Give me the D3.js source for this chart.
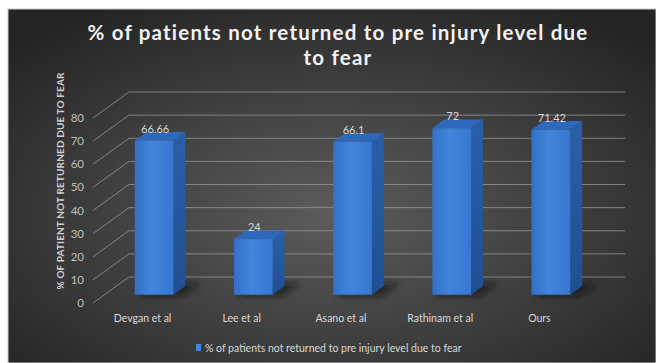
<!DOCTYPE html>
<html>
<head>
<meta charset="utf-8">
<script src="https://cdn.jsdelivr.net/npm/d3@7"></script>
<style>
  body { margin: 0; background: #fff; }
  svg { display: block; }
</style>
</head>
<body>
<svg id="chart" width="656" height="363"></svg>
<script>
// chart data
const studies = ['Devgan et al', 'Lee et al', 'Asano et al', 'Rathinam et al', 'Ours'];
const percentNotReturned = [66.66, 24, 66.1, 72, 71.42];
const valueLabels = ['66.66', '24', '66.1', '72', '71.42'];
const yTicks = [0, 10, 20, 30, 40, 50, 60, 70, 80];
const seriesName = '% of patients not returned to pre injury level due to fear';

const svg = d3.select('#chart');
const defs = svg.append('defs');

// background gradient
const bg = defs.append('radialGradient').attr('id', 'bg')
    .attr('cx', '50%').attr('cy', '58%').attr('r', '68%');
bg.append('stop').attr('offset', '0%').attr('stop-color', '#5c5c5c');
bg.append('stop').attr('offset', '100%').attr('stop-color', '#242424');

const front = defs.append('linearGradient').attr('id', 'front')
    .attr('x1', '0').attr('x2', '1').attr('y1', '0').attr('y2', '0');
front.append('stop').attr('offset', '0%').attr('stop-color', '#3470c8');
front.append('stop').attr('offset', '45%').attr('stop-color', '#4186dc');
front.append('stop').attr('offset', '100%').attr('stop-color', '#3776d0');

const side = defs.append('linearGradient').attr('id', 'side')
    .attr('x1', '0').attr('x2', '0').attr('y1', '0').attr('y2', '1');
side.append('stop').attr('offset', '0%').attr('stop-color', '#2a5fa8');
side.append('stop').attr('offset', '100%').attr('stop-color', '#1f4f93');

defs.append('filter').attr('id', 'blur').attr('x', '-50%').attr('y', '-50%')
    .attr('width', '200%').attr('height', '200%')
    .append('feGaussianBlur').attr('stdDeviation', 3);

svg.append('rect')
    .attr('x', 8).attr('y', 9).attr('width', 648).attr('height', 354)
    .attr('fill', 'url(#bg)')
    .attr('stroke', '#c8c8c8').attr('stroke-width', 1);

// 3d projection: t = 0 back wall, t = 1 front edge
const depthX = -36, depthY = 26;
const proj = (x, y, t) => [x + depthX * t, y + depthY * t];

const x = d3.scaleBand()
    .domain(studies)
    .range([129, 625])
    .paddingInner(0.61)
    .paddingOuter(0.305);

const y = d3.scaleLinear().domain([0, 80]).range([277, 92]);

// gridlines
const grid = svg.append('g');
yTicks.forEach(v => {
    const p = proj(129, y(v), 1);
    grid.append('path')
        .attr('d', `M${p[0]},${p[1]}L129,${y(v)}L625,${y(v)}`)
        .attr('fill', 'none')
        .attr('stroke', '#959595')
        .attr('stroke-width', 1)
        .attr('opacity', 0.8);
    grid.append('text')
        .attr('x', p[0] - 9)
        .attr('y', p[1] + 4)
        .attr('text-anchor', 'end')
        .attr('font-family', 'Lato, sans-serif')
        .attr('font-size', 11.5)
        .attr('fill', '#bfbfbf')
        .text(v);
});

// bars
const tf = 0.68, tb = 0.35;
const bars = svg.append('g');
const w = x.bandwidth();
const pts = arr => arr.map(p => p.join(',')).join(' ');

studies.forEach((s, i) => {
    const v = percentNotReturned[i];
    const x0 = x(s), x1 = x(s) + w;
    const yt = y(v), y0 = y(0);

    // shadow on the floor
    bars.append('polygon')
        .attr('points', pts([proj(x0 + 4, y0, tf + 0.05), proj(x1 + 12, y0, tf + 0.05),
            proj(x1 + 12, y0, tb - 0.1), proj(x0 + 4, y0, tb - 0.1)]))
        .attr('fill', '#111')
        .attr('opacity', 0.6)
        .attr('filter', 'url(#blur)');

    bars.append('polygon')
        .attr('points', pts([proj(x1, yt, tf), proj(x1, yt, tb), proj(x1, y0, tb), proj(x1, y0, tf)]))
        .attr('fill', 'url(#side)');

    bars.append('polygon')
        .attr('points', pts([proj(x0, yt, tf), proj(x1, yt, tf), proj(x1, yt, tb), proj(x0, yt, tb)]))
        .attr('fill', '#2d68ba');

    const f0 = proj(x0, yt, tf), f1 = proj(x1, y0, tf);
    bars.append('rect')
        .attr('x', f0[0]).attr('y', f0[1])
        .attr('width', f1[0] - f0[0]).attr('height', f1[1] - f0[1])
        .attr('fill', 'url(#front)');

    bars.append('text')
        .attr('x', (f0[0] + f1[0]) / 2 + 1)
        .attr('y', f0[1] - 8)
        .attr('text-anchor', 'middle')
        .attr('font-family', 'Lato, sans-serif')
        .attr('font-size', 11)
        .attr('fill', '#d9d9d9')
        .text(valueLabels[i]);
});

// category labels along the front edge
studies.forEach(s => {
    const p = proj(x(s) + w / 2, y(0), 1);
    svg.append('text')
        .attr('x', p[0])
        .attr('y', p[1] + 19)
        .attr('text-anchor', 'middle')
        .attr('font-family', 'Lato, sans-serif')
        .attr('font-size', 10.5)
        .attr('fill', '#d9d9d9')
        .text(s);
});

// y axis title
svg.append('text')
    .attr('transform', 'translate(64,181) rotate(-90)')
    .attr('text-anchor', 'middle')
    .attr('font-family', 'Lato, sans-serif')
    .attr('font-weight', 'bold')
    .attr('font-size', 10)
    .attr('textLength', 217)
    .attr('lengthAdjust', 'spacing')
    .attr('fill', '#d0d0d0')
    .text('% OF PATIENT NOT RETURNED DUE TO FEAR');

// title
const title = svg.append('text')
    .attr('text-anchor', 'middle')
    .attr('font-family', 'Lato, sans-serif')
    .attr('font-weight', 'bold')
    .attr('font-size', 20.5)
    .attr('letter-spacing', 1.2)
    .attr('fill', '#f2f2f2');
title.append('tspan').attr('x', 338).attr('y', 40).text('% of patients not returned to pre injury level due');
title.append('tspan').attr('x', 338).attr('y', 65).text('to fear');

// legend
const legend = svg.append('g');
legend.append('rect')
    .attr('x', 196).attr('y', 344).attr('width', 5).attr('height', 7)
    .attr('fill', '#4186dc');
legend.append('text')
    .attr('x', 205).attr('y', 352)
    .attr('font-family', 'Lato, sans-serif')
    .attr('font-size', 10.5)
    .attr('fill', '#d9d9d9')
    .text(seriesName);
</script>
</body>
</html>
